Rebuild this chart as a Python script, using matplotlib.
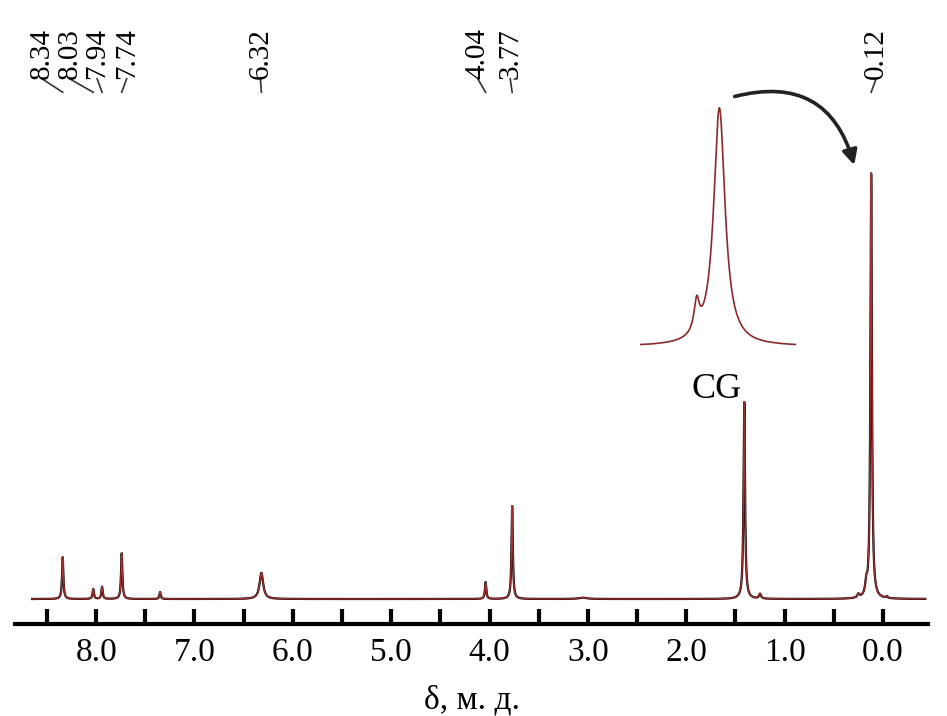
# NMR spectrum (1H), peak list rebuilt as Lorentzian lines
import numpy as np
import matplotlib.pyplot as plt

# peak positions (ppm), heights (arb.) and half widths (ppm)
peak_ppm = [8.34, 8.03, 7.94, 7.74, 7.35, 6.32, 4.04, 3.77, 3.05, 1.41, 1.25, 0.25, 0.17, 0.12, -0.04]
peak_height = [9.6, 2.3, 2.8, 10.5, 1.6, 6.0, 3.9, 21.3, 0.3, 45.2, 1.1, 0.8, 2.5, 97.5, 0.4]
peak_hw = [0.008, 0.008, 0.008, 0.008, 0.008, 0.022, 0.008, 0.008, 0.05, 0.009, 0.012, 0.012, 0.012, 0.009, 0.008]

# labelled shifts and where the label text sits
label_ppm = [8.34, 8.03, 7.94, 7.74, 6.32, 4.04, 3.77, 0.12]
label_pos = [8.55, 8.27, 7.99, 7.69, 6.33, 4.12, 3.79, 0.07]

# inset: zoom of the 0.12 ppm signal (main line + shoulder)
inset_ppm = [0.1695, 0.12]
inset_height = [13.0, 100.0]
inset_hw = [0.007, 0.015]

ticks = np.arange(0, 8.51, 0.5)

def spectrum(x, pos, h, hw):
    y = np.zeros_like(x)
    for p, a, w in zip(pos, h, hw):
        y += a / (1 + ((x - p) / w) ** 2)
    return y

plt.rcParams['font.family'] = ['Liberation Serif', 'DejaVu Serif']

fig = plt.figure(figsize=(9.47, 7.16), dpi=100)
ax = fig.add_axes([15 / 947, 92 / 716, 913 / 947, 614 / 716])

x = np.linspace(8.65, -0.43, 12000)
y = spectrum(x, peak_ppm, peak_height, peak_hw)
ax.plot(x, y, color='black', lw=1.6, zorder=2)
ax.plot(x, y, color='#a33030', lw=1.0, zorder=3)

ax.set_xlim(8.825, -0.458)
ax.set_ylim(-5.73, 135.1)
for s in ['top', 'left', 'right']:
    ax.spines[s].set_visible(False)
ax.spines['bottom'].set_linewidth(3)
ax.set_yticks([])
ax.set_xticks(ticks)
ax.set_xticklabels(['%.1f' % t if t == int(t) else '' for t in ticks], fontsize=24)
ax.tick_params(axis='x', direction='in', length=11, width=3, pad=10)
ax.set_xlabel('δ, м. д.', fontsize=24, labelpad=12)

# peak labels at the top
trans = ax.get_xaxis_transform()
for p, lp in zip(label_ppm, label_pos):
    ax.plot([p, lp], [0.866, 0.888], transform=trans, color='#333', lw=1.2, clip_on=False)
    ax.text(lp, 0.888, '%.2f' % p, transform=trans, rotation=90, fontsize=21,
            ha='center', va='bottom')

ax.text(1.69, 46.1, 'CG', fontsize=26, ha='center', va='baseline')

# arrow from inset to the 0.12 ppm line
ax.annotate('', xy=(0.285, 98.9), xytext=(1.535, 115.1),
            arrowprops=dict(arrowstyle='-|>', lw=2.6, color='#222', mutation_scale=22,
                            connectionstyle='arc3,rad=-0.5'))

# inset
ins = fig.add_axes([640 / 947, (716 - 350) / 716, 156 / 947, 244 / 716])
xi = np.linspace(0.293, -0.047, 2000)
ins.plot(xi, spectrum(xi, inset_ppm, inset_height, inset_hw), color='#8b2a2a', lw=1.2)
ins.set_xlim(0.293, -0.047)
ins.set_ylim(-1.5, 101)
ins.axis('off')

fig.savefig('out.png', dpi=100)
